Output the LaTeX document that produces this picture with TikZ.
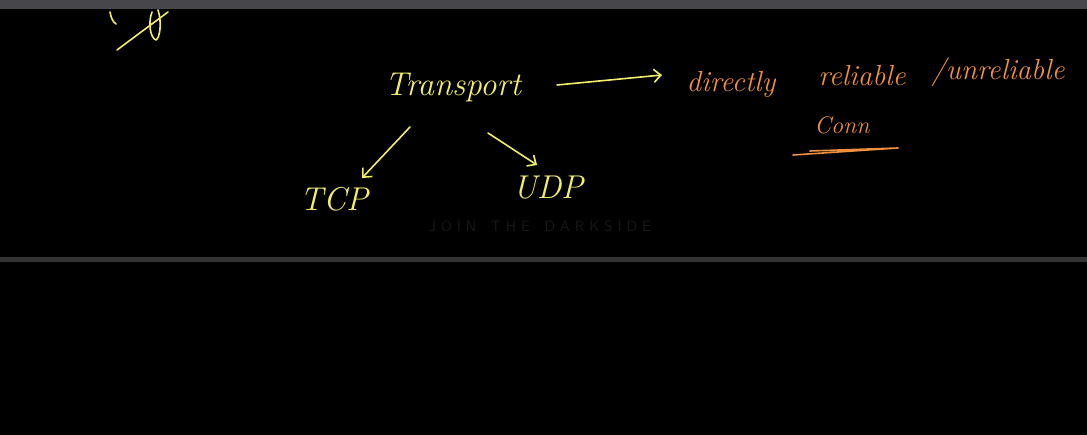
\documentclass[tikz,border=0pt]{standalone}
\usetikzlibrary{arrows.meta}
\definecolor{chalkyellow}{HTML}{F3EE6A}
\definecolor{chalkorange}{HTML}{EE9040}
\definecolor{topbar}{HTML}{47464B}
\definecolor{divider}{HTML}{343434}
\definecolor{wmark}{HTML}{181818}
\tikzset{
  yel/.style={text=chalkyellow, font=\fontsize{33}{35}\selectfont\itshape, inner sep=0pt},
  org/.style={text=chalkorange, font=\fontsize{29}{31}\selectfont\itshape, inner sep=0pt},
  yline/.style={draw=chalkyellow, line width=1.6pt, line cap=round, line join=round},
  oline/.style={draw=chalkorange, line width=1.6pt, line cap=round, line join=round},
  tipv/.style={-{Straight Barb[length=7pt,width=13pt]}}
}
\begin{document}
\begin{tikzpicture}[x=1pt,y=-1pt]
\fill[black] (0,0) rectangle (1087,435);
\useasboundingbox (0,0) rectangle (1087,435);
\fill[topbar] (0,0) rectangle (1087,9);
\fill[divider] (0,257) rectangle (1087,262);
% partial scribble at top left
\draw[yline] (117,50) -- (168,12);
\draw[yline] (152,12) .. controls (148,22) and (150,38) .. (156,40) .. controls (160,38) and (162,22) .. (158,10);
\draw[yline] (110,12) .. controls (111,18) and (113,22) .. (116,24);
% nodes
\node[yel] (transport) at (453,88) {Transport};
\node[yel] (tcp) at (334,199) {TCP};
\node[yel] (udp) at (548,188) {UDP};
\node[org] (directly) at (731,84) {directly};
\node[org] (reliable) at (862,76) {reliable};
\node[org] (unrel) at (998,72) {/unreliable};
\node[org, font=\fontsize{24}{26}\selectfont\itshape] (conn) at (842,125) {Conn};
\node[text=wmark, font=\fontsize{15}{16}\selectfont\sffamily] (wm) at (540,226) {J\,\,O\,\,I\,\,N\ \ \ T\,\,H\,\,E\ \ \ D\,\,A\,\,R\,\,K\,\,S\,\,I\,\,D\,\,E};
% connectors
\draw[yline, tipv] ([xshift=104pt,yshift=3pt]transport.center) -- ([xshift=-69pt,yshift=9pt]directly.center);
\draw[yline, tipv] ([xshift=-43pt,yshift=-39pt]transport.center) -- ([xshift=28pt,yshift=21pt]tcp.center);
\draw[yline, tipv] ([xshift=35pt,yshift=-45pt]transport.center) -- ([xshift=-11pt,yshift=23pt]udp.center);
% underline of Conn
\draw[oline] ([xshift=-49pt,yshift=-30pt]conn.center) -- ([xshift=56pt,yshift=-23pt]conn.center) -- ([xshift=-32pt,yshift=-26pt]conn.center);
\end{tikzpicture}
\end{document}
